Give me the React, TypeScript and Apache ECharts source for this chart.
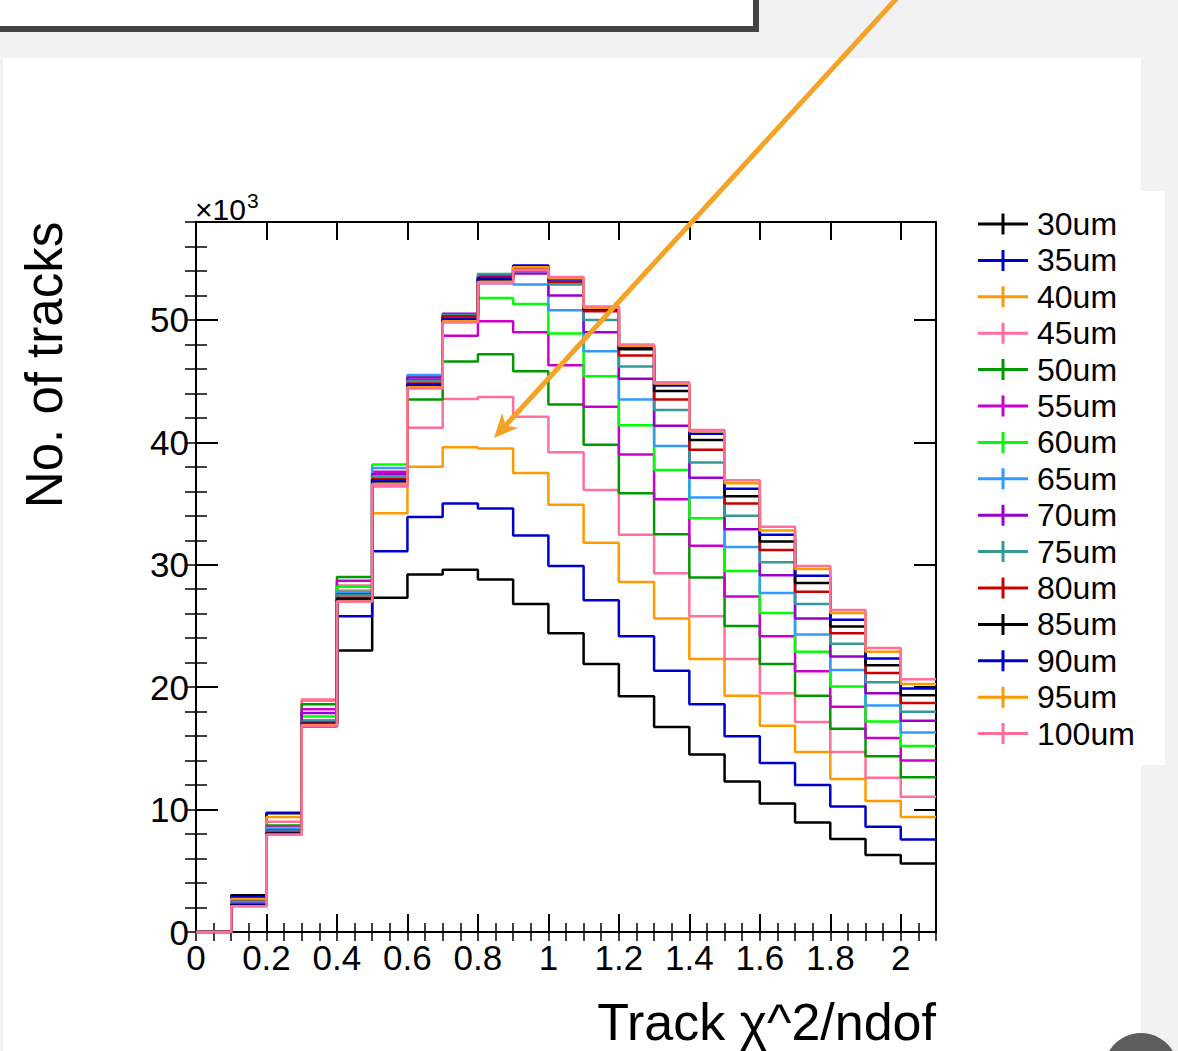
import React, { useEffect, useRef } from "react";
import * as echarts from "echarts";

// Bin edges of the chi2/ndof histogram (22 edges -> 21 bins)
const binEdges = [0, 0.1, 0.2, 0.3, 0.4, 0.5, 0.6, 0.7, 0.8, 0.9, 1.0, 1.1, 1.2, 1.3, 1.4, 1.5, 1.6, 1.7, 1.8, 1.9, 2.0, 2.1];

const seriesNames = ["30um", "35um", "40um", "45um", "50um", "55um", "60um", "65um", "70um", "75um", "80um", "85um", "90um", "95um", "100um"];
const seriesColors = ["#000000", "#0000cc", "#ff9900", "#ff6f9a", "#009900", "#cc00cc", "#00ff00", "#3399ff", "#9900cc", "#339999", "#cc0000", "#000000", "#0000cc", "#ff9900", "#ff6f9a"];

// Bin contents in units of 10^3 tracks
const h30 = [0, 3.0, 9.7, 16.8, 23.0, 27.3, 29.2, 29.6, 28.8, 26.8, 24.4, 21.9, 19.25, 16.75, 14.5, 12.3, 10.5, 8.95, 7.6, 6.3, 5.6];
const h35 = [0, 2.85, 9.75, 17.1, 25.8, 31.1, 33.9, 35.0, 34.6, 32.4, 29.9, 27.1, 24.15, 21.35, 18.6, 16.0, 13.8, 12.0, 10.25, 8.6, 7.55];
const h40 = [0, 2.7, 9.4, 18.9, 27.9, 34.2, 38.0, 39.6, 39.5, 37.5, 34.9, 31.8, 28.6, 25.6, 22.3, 19.3, 16.85, 14.7, 12.5, 10.7, 9.4];
const h45 = [0, 2.6, 9.0, 19.0, 28.3, 36.4, 41.2, 43.55, 43.7, 42.1, 39.2, 36.1, 32.45, 29.3, 25.8, 22.3, 19.5, 17.15, 14.7, 12.6, 11.05];
const h50 = [0, 2.5, 8.7, 18.6, 29.0, 37.0, 43.5, 46.6, 47.2, 45.8, 43.1, 39.8, 35.85, 32.5, 28.95, 25.0, 21.9, 19.3, 16.6, 14.35, 12.65];
const h55 = [0, 2.45, 8.55, 18.2, 28.7, 37.6, 45.1, 48.7, 49.9, 49.0, 46.3, 42.9, 39.0, 35.35, 31.55, 27.4, 24.15, 21.3, 18.4, 15.85, 14.0];
const h60 = [0, 2.4, 8.5, 17.6, 28.2, 38.2, 45.4, 50.1, 51.8, 51.3, 48.9, 45.4, 41.4, 37.75, 33.8, 29.5, 26.05, 22.9, 20.05, 17.2, 15.2];
const h65 = [0, 2.35, 8.4, 17.3, 27.8, 37.9, 45.5, 50.4, 53.0, 52.9, 50.8, 47.45, 43.5, 39.7, 35.5, 31.45, 27.7, 24.3, 21.4, 18.5, 16.3];
const h70 = [0, 2.3, 8.3, 17.9, 27.6, 37.4, 45.3, 50.5, 53.6, 53.8, 52.0, 49.0, 45.2, 41.35, 37.1, 32.9, 29.15, 25.6, 22.5, 19.5, 17.25];
const h75 = [0, 2.25, 8.2, 17.2, 27.5, 37.2, 45.0, 50.4, 53.75, 54.0, 52.9, 50.0, 46.2, 42.65, 38.35, 34.0, 30.2, 26.8, 23.55, 20.4, 18.0];
const h80 = [0, 2.2, 8.1, 17.1, 27.3, 37.0, 44.8, 50.3, 53.45, 54.2, 53.1, 50.7, 47.1, 43.5, 39.4, 35.0, 31.2, 27.8, 24.4, 21.15, 18.7];
const h85 = [0, 2.2, 8.05, 17.0, 27.2, 36.8, 44.6, 50.0, 53.3, 54.3, 53.4, 50.9, 47.6, 44.2, 40.2, 35.6, 31.9, 28.5, 24.95, 21.8, 19.35];
const h90 = [0, 2.15, 8.0, 17.0, 27.1, 36.9, 44.7, 50.1, 53.4, 54.45, 53.3, 51.0, 47.8, 44.65, 40.7, 36.2, 32.45, 29.1, 25.5, 22.35, 19.9];
const h95 = [0, 2.1, 7.95, 16.9, 27.0, 36.6, 44.5, 49.9, 53.1, 54.3, 53.4, 51.0, 47.9, 44.8, 40.9, 36.65, 32.8, 29.65, 26.05, 22.9, 20.25];
const h100 = [0, 2.1, 7.95, 16.85, 27.0, 36.5, 44.4, 49.8, 53.0, 54.1, 53.5, 51.1, 48.0, 44.9, 41.0, 36.9, 33.1, 29.9, 26.3, 23.2, 20.65];

const histograms = [h30, h35, h40, h45, h50, h55, h60, h65, h70, h75, h80, h85, h90, h95, h100];

const xMin = 0;
const xMax = 2.1;
const yMin = 0;
const yMax = 58;

const FONT = "'Liberation Sans', Arial, Helvetica, sans-serif";

function histData(vals: number[]) {
  return binEdges.map((x, i) => [x, vals[Math.min(i, vals.length - 1)]]);
}

export default function App() {
  const ref = useRef<HTMLDivElement>(null);

  useEffect(() => {
    const chart = echarts.init(ref.current!, null, { renderer: "svg" });

    const gridLeft = 196, gridTop = 222, gridW = 740, gridH = 710;

    // arrow geometry (annotation)
    const S = [897, -2];
    const T = [494, 438];
    const dx = T[0] - S[0], dy = T[1] - S[1];
    const len = Math.hypot(dx, dy);
    const ux = dx / len, uy = dy / len;
    const px = -uy, py = ux;
    const headL = 24, headW = 11, notch = 17;
    const B = [T[0] - headL * ux, T[1] - headL * uy];
    const N = [T[0] - notch * ux, T[1] - notch * uy];
    const W1 = [B[0] + headW * px, B[1] + headW * py];
    const W2 = [B[0] - headW * px, B[1] - headW * py];

    const tickLine = (w: number) => ({ color: "#000", width: w });

    const majorX = (pos: "bottom" | "top", labels: boolean) => ({
      type: "value",
      gridIndex: 0,
      position: pos,
      min: xMin,
      max: xMax,
      interval: 0.2,
      axisLine: { show: true, onZero: false, lineStyle: { color: "#000", width: 2 } },
      axisTick: { show: true, inside: true, length: 18, lineStyle: tickLine(2) },
      axisLabel: {
        show: labels,
        showMaxLabel: false,
        margin: 8,
        color: "#000",
        fontSize: 35,
        fontFamily: FONT,
      },
      splitLine: { show: false },
    });
    const minorX = (pos: "bottom" | "top") => ({
      type: "value",
      gridIndex: 0,
      position: pos,
      min: xMin,
      max: xMax,
      interval: 0.05,
      axisLine: { show: false },
      axisTick: { show: true, inside: true, length: 9, lineStyle: tickLine(1.5) },
      axisLabel: { show: false },
      splitLine: { show: false },
    });
    const majorY = (pos: "left" | "right", labels: boolean) => ({
      type: "value",
      gridIndex: 0,
      position: pos,
      min: yMin,
      max: yMax,
      interval: 10,
      axisLine: { show: true, onZero: false, lineStyle: { color: "#000", width: 2 } },
      axisTick: { show: true, inside: true, length: 22, lineStyle: tickLine(2) },
      axisLabel: {
        show: labels,
        showMaxLabel: false,
        margin: 7,
        color: "#000",
        fontSize: 35,
        fontFamily: FONT,
      },
      splitLine: { show: false },
    });
    const minorY = (pos: "left" | "right") => ({
      type: "value",
      gridIndex: 0,
      position: pos,
      min: yMin,
      max: yMax,
      interval: 2,
      axisLine: { show: false },
      axisTick: { show: true, inside: true, length: 11, lineStyle: tickLine(1.5) },
      axisLabel: { show: false },
      splitLine: { show: false },
    });

    const option: any = {
      animation: false,
      backgroundColor: "#f2f2f2",
      grid: { left: gridLeft, top: gridTop, width: gridW, height: gridH, containLabel: false },
      xAxis: [majorX("bottom", true), minorX("bottom"), majorX("top", false), minorX("top")],
      yAxis: [majorY("left", true), minorY("left"), majorY("right", false), minorY("right")],
      legend: {
        orient: "vertical",
        left: 978,
        top: 208,
        padding: 0,
        itemWidth: 50,
        itemHeight: 21,
        itemGap: 4.4,
        selectedMode: false,
        icon: "path://M0,9H50V12H0Z M23.5,0H26.5V21H23.5Z",
        textStyle: {
          color: "#000",
          fontSize: 32,
          fontFamily: FONT,
          padding: [0, 0, 0, 4],
        },
        data: seriesNames.map((n) => ({ name: n })),
      },
      series: histograms.map((vals, i) => ({
        name: seriesNames[i],
        type: "line",
        xAxisIndex: 0,
        yAxisIndex: 0,
        step: "end",
        showSymbol: false,
        symbol: "none",
        data: histData(vals),
        color: seriesColors[i],
        itemStyle: { color: seriesColors[i] },
        lineStyle: { color: seriesColors[i], width: 2.5 },
        z: 3,
      })),
      graphic: [
        // white page panel
        { type: "rect", z: -10, shape: { x: 3, y: 58, width: 1138, height: 1000 }, style: { fill: "#ffffff" } },
        // legend pad extension
        { type: "rect", z: -10, shape: { x: 1141, y: 191, width: 24, height: 574 }, style: { fill: "#ffffff" } },
        // top box
        { type: "rect", z: -9, shape: { x: -10, y: -10, width: 766, height: 39 }, style: { fill: "#ffffff", stroke: "#444444", lineWidth: 6 } },
        // x10^3 multiplier
        {
          type: "text",
          z: 10,
          x: 195,
          y: 209,
          style: {
            text: "{a|×10}{b|3}",
            verticalAlign: "middle",
            rich: {
              a: { fontSize: 30, fontFamily: FONT, fill: "#000" },
              b: { fontSize: 21, fontFamily: FONT, fill: "#000", padding: [0, 0, 18, 1] },
            },
          },
        },
        // y title
        {
          type: "text",
          z: 10,
          x: 44,
          y: 365,
          rotation: Math.PI / 2,
          style: { text: "No. of tracks", fontSize: 51, fontFamily: FONT, fill: "#000", align: "center", verticalAlign: "middle" },
        },
        // x title
        {
          type: "text",
          z: 10,
          x: 936,
          y: 1022,
          style: { text: "Track χ^2/ndof", fontSize: 52, fontFamily: FONT, fill: "#000", align: "right", verticalAlign: "middle" },
        },
        // orange arrow
        {
          type: "line",
          z: 50,
          shape: { x1: S[0], y1: S[1], x2: N[0], y2: N[1] },
          style: { stroke: "#f4a326", lineWidth: 5 },
        },
        {
          type: "polygon",
          z: 50,
          shape: { points: [T, W1, N, W2] },
          style: { fill: "#f4a326" },
        },
        // dark circle bottom right
        { type: "circle", z: 50, shape: { cx: 1141, cy: 1070, r: 37 }, style: { fill: "#5e5e5e" } },
      ],
    };

    chart.setOption(option);
    return () => chart.dispose();
  }, []);

  return (
    <div
      ref={ref}
      style={{ position: "fixed", left: 0, top: 0, width: 1178, height: 1051, overflow: "hidden" }}
    />
  );
}
